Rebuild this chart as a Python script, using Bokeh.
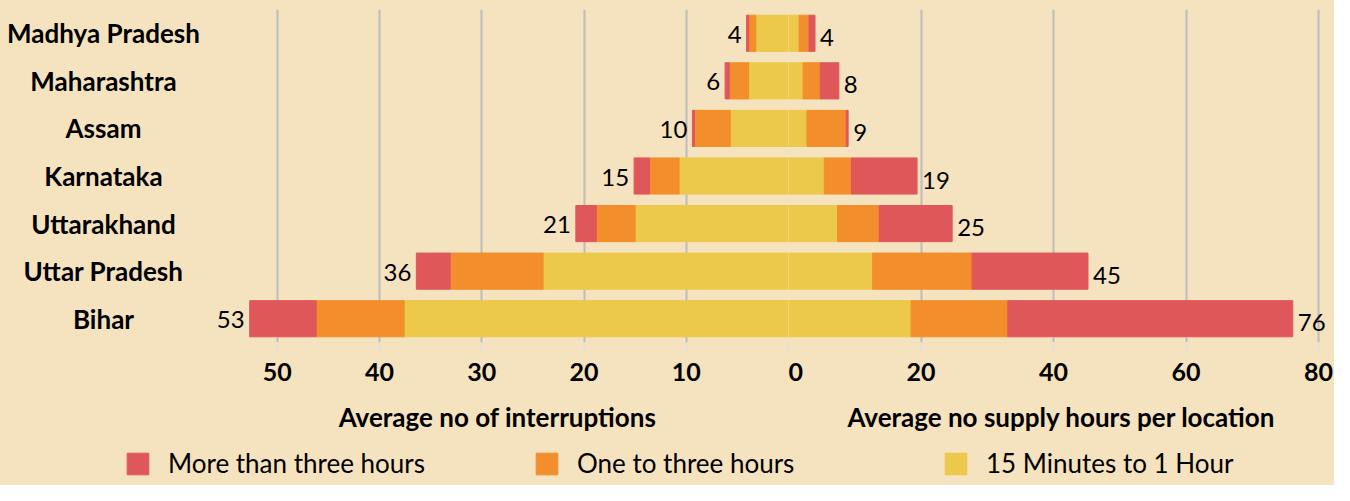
from bokeh.plotting import figure
from bokeh.models import Range1d, FactorRange, ColumnDataSource, Legend, LegendItem
from bokeh.layouts import row, column
from bokeh.embed import file_html
from bokeh.resources import INLINE
from bokeh.core.properties import value

# ---------------- data ----------------
states = ["Madhya Pradesh", "Maharashtra", "Assam", "Karnataka",
          "Uttarakhand", "Uttar Pradesh", "Bihar"]

# Average no of interruptions (left side)
int_15m_1h = [3.2, 3.9, 5.7, 10.7, 15.0, 24.0, 37.6]
int_1h_3h = [0.7, 1.9, 3.5, 2.9, 3.8, 9.1, 8.6]
int_gt_3h = [0.2, 0.4, 0.2, 1.5, 2.0, 3.3, 6.5]
int_totals = ["4", "6", "10", "15", "21", "36", "53"]

# Average no supply hours per location (right side)
hrs_15m_1h = [1.6, 2.2, 2.8, 5.4, 7.4, 12.7, 18.5]
hrs_1h_3h = [1.5, 2.6, 5.9, 4.1, 6.3, 15.0, 14.6]
hrs_gt_3h = [0.9, 2.8, 0.3, 9.9, 11.0, 17.5, 43.0]
hrs_totals = ["4", "8", "9", "19", "25", "45", "76"]

series_names = ["More than three hours", "One to three hours", "15 Minutes to 1 Hour"]
left_ticks = [0, 10, 20, 30, 40, 50]
right_ticks = [0, 20, 40, 60, 80]

# ---------------- style ----------------
BG = "#F5E2BE"
RED = "#E0575A"
ORANGE = "#F28E2C"
YELLOW = "#ECC94B"
GRID = "#BDBDBD"
FONT = "Lato"

TOP_H = 440
FRAME_TOP = 9
FRAME_H = 333
BORDER_B = TOP_H - FRAME_TOP - FRAME_H

LAB_W = 206
LEFT_W = 582
RIGHT_W = 546
LPX = 10.224   # pixels per interruption
RPX = 6.626    # pixels per supply hour

yr = FactorRange(factors=list(reversed(states)))


def make_source(a, b, c, labels):
    ends = [x + y + z for x, y, z in zip(a, b, c)]
    return ColumnDataSource(dict(state=states, s1=a, s2=b, s3=c, end=ends, label=labels))


def style_fig(p, ticks, title):
    p.background_fill_color = BG
    p.border_fill_color = BG
    p.outline_line_color = None
    p.ygrid.grid_line_color = None
    p.xgrid.ticker = ticks
    p.xgrid.grid_line_color = GRID
    p.xgrid.grid_line_width = 2
    ax = p.xaxis[0]
    ax.ticker = ticks
    ax.axis_line_color = None
    ax.minor_tick_line_color = None
    ax.major_tick_line_color = "#E6DFD3"
    ax.major_tick_line_width = 2
    ax.major_tick_in = 0
    ax.major_tick_out = 9
    ax.major_label_text_font = FONT
    ax.major_label_text_font_size = "25px"
    ax.major_label_text_font_style = "bold"
    ax.major_label_text_color = "#000000"
    ax.major_label_standoff = 11
    ax.axis_label = title
    ax.axis_label_text_font = FONT
    ax.axis_label_text_font_size = "26px"
    ax.axis_label_text_font_style = "bold"
    ax.axis_label_text_color = "#000000"
    ax.axis_label_standoff = 17


def top_fig(width, x_range):
    return figure(width=width, height=TOP_H, x_range=x_range, y_range=yr,
                  output_backend="svg", toolbar_location=None,
                  y_axis_location=None,
                  min_border_top=FRAME_TOP, min_border_bottom=BORDER_B,
                  min_border_left=0, min_border_right=0)


# ---------------- category labels ----------------
lab = figure(width=LAB_W, height=TOP_H, x_range=Range1d(0, 1), y_range=yr,
             output_backend="svg", toolbar_location=None,
             x_axis_location=None, y_axis_location=None,
             min_border_top=FRAME_TOP, min_border_bottom=BORDER_B,
             min_border_left=0, min_border_right=0)
lab.background_fill_color = BG
lab.border_fill_color = BG
lab.outline_line_color = None
lab.grid.visible = False
lab.text(x=[0.5] * len(states), y=states, text=states,
         text_font=value(FONT), text_font_size="26px", text_font_style="bold",
         text_align="center", text_baseline="middle", text_color="#000000")

# ---------------- left: interruptions ----------------
left = top_fig(LEFT_W, Range1d(LEFT_W / LPX, 0))
style_fig(left, left_ticks, "Average no of interruptions")
left.xaxis[0].major_label_overrides = {0: ""}
lsrc = make_source(int_15m_1h, int_1h_3h, int_gt_3h, int_totals)
left.hbar_stack(["s1", "s2", "s3"], y="state", height=0.76,
                color=[YELLOW, ORANGE, RED], source=lsrc)
left.text(x="end", y="state", text="label", source=lsrc, x_offset=-5, y_offset=1,
          text_font=value(FONT), text_font_size="24px", text_align="right",
          text_baseline="middle", text_color="#000000")

# ---------------- right: supply hours ----------------
right = top_fig(RIGHT_W, Range1d(0, RIGHT_W / RPX))
style_fig(right, right_ticks, "Average no supply hours per location")
rsrc = make_source(hrs_15m_1h, hrs_1h_3h, hrs_gt_3h, hrs_totals)
right.hbar_stack(["s1", "s2", "s3"], y="state", height=0.76,
                 color=[YELLOW, ORANGE, RED], source=rsrc)
right.text(x="end", y="state", text="label", source=rsrc, x_offset=5, y_offset=4,
           text_font=value(FONT), text_font_size="24px", text_align="left",
           text_baseline="middle", text_color="#000000")

# ---------------- legend ----------------
LEG_H = 485 - TOP_H
lf = figure(width=LAB_W + LEFT_W + RIGHT_W, height=LEG_H,
            x_range=Range1d(0, 1), y_range=Range1d(0, 1),
            output_backend="svg", toolbar_location=None,
            x_axis_location=None, y_axis_location=None,
            min_border_top=7, min_border_bottom=0, min_border_left=124,
            min_border_right=0)
lf.background_fill_color = BG
lf.border_fill_color = BG
lf.outline_line_color = None
lf.grid.visible = False
items = []
for name, col in zip(series_names, [RED, ORANGE, YELLOW]):
    # a hidden placeholder point (outside the visible range) that carries the legend swatch
    r = lf.rect(x=[-5], y=[-5], width=1, height=1, fill_color=col, line_color=col)
    items.append(LegendItem(label=name, renderers=[r]))
leg = Legend(items=items, orientation="horizontal", location="top_left",
             glyph_width=27, glyph_height=27, label_standoff=17,
             label_width=365, spacing=0, padding=0, margin=0,
             label_text_font=FONT, label_text_font_size="26px",
             label_text_color="#000000",
             background_fill_alpha=0, border_line_alpha=0)
lf.add_layout(leg)

layout = column(row(lab, left, right, styles={"background-color": BG}), lf,
                styles={"background-color": BG})
open("out.html", "w").write(file_html(layout, INLINE))
